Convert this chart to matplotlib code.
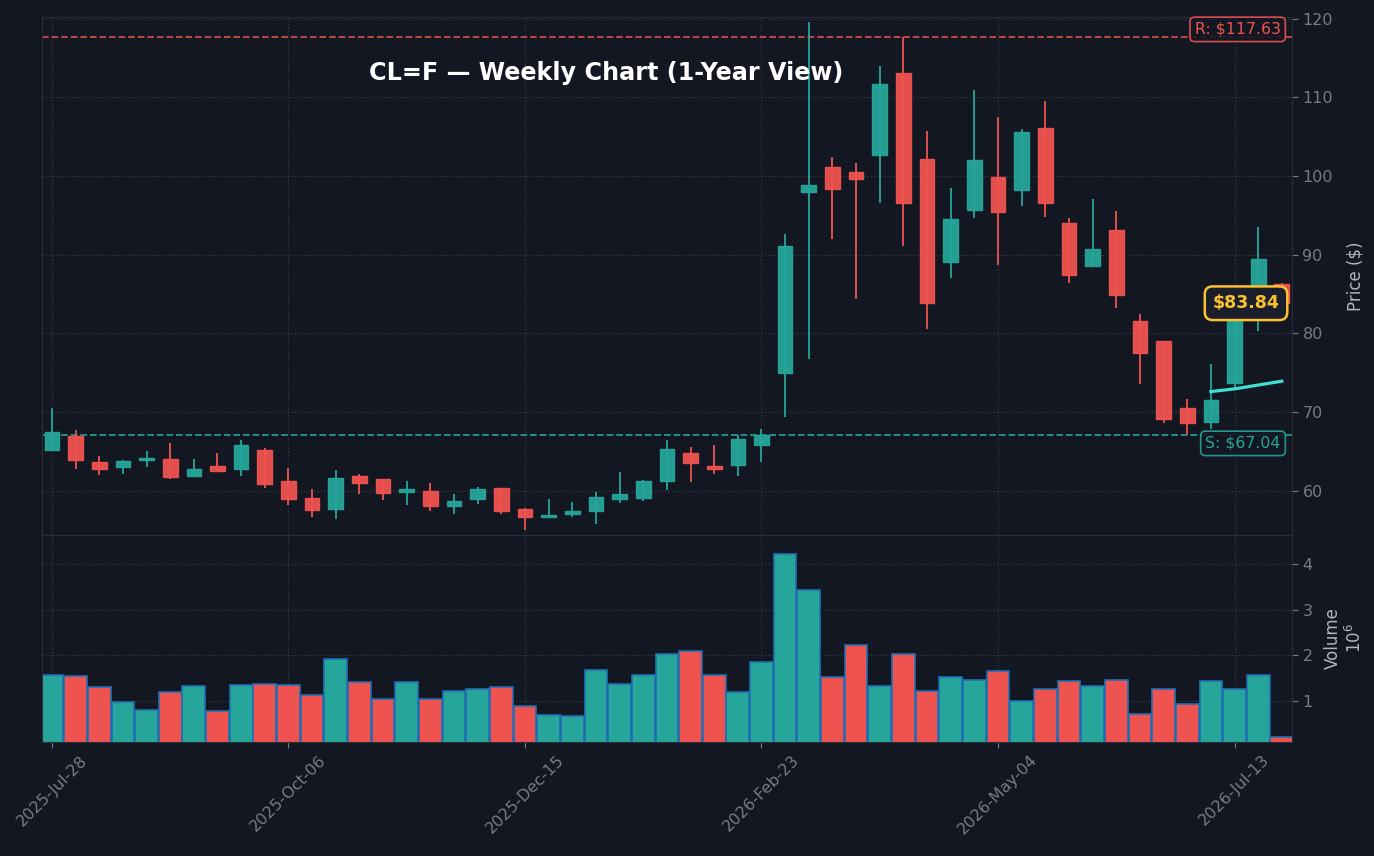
import matplotlib
matplotlib.use("Agg")
import matplotlib.pyplot as plt
import numpy as np
import pandas as pd

# weekly OHLC
dates = pd.date_range("2025-07-28", periods=53, freq="7D")
opens = [65.17, 66.95, 63.65, 63.00, 63.90, 64.03, 61.95, 63.14, 62.76, 65.17,
         61.23, 59.07, 57.67, 61.95, 61.49, 59.83, 59.96, 58.06, 58.95, 60.34,
         57.67, 56.70, 57.08, 57.42, 58.95, 59.07, 61.23, 64.79, 63.14, 63.27,
         65.88, 74.96, 97.95, 101.13, 100.57, 102.66, 113.07, 102.15, 89.06, 95.67,
         99.86, 98.20, 106.09, 94.02, 88.55, 93.13, 81.56, 79.02, 70.58, 68.73,
         73.72, 84.00, 86.27]
highs = [70.58, 67.75, 64.45, 63.90, 65.08, 66.10, 64.07, 64.83, 66.48, 65.46,
         62.92, 60.25, 62.67, 62.16, 61.55, 61.27, 61.00, 59.62, 60.50, 60.40,
         57.88, 58.98, 58.60, 59.87, 62.41, 61.40, 66.48, 65.59, 65.84, 67.15,
         67.88, 92.66, 119.60, 102.44, 101.68, 114.00, 117.63, 105.74, 98.50, 110.95,
         107.52, 106.00, 109.55, 94.65, 97.10, 95.58, 82.49, 79.05, 71.69, 76.14,
         85.00, 93.50, 86.40]
lows = [65.10, 62.80, 62.03, 62.16, 63.10, 61.56, 61.82, 62.50, 61.90, 60.42,
        58.22, 56.73, 56.48, 59.66, 58.90, 58.26, 57.50, 57.12, 58.39, 57.12,
        55.08, 56.65, 56.73, 55.85, 58.50, 58.77, 60.17, 61.14, 62.16, 61.95,
        63.73, 69.36, 76.81, 92.06, 84.44, 96.63, 91.17, 80.62, 87.10, 94.73,
        88.76, 96.25, 94.85, 86.47, 88.50, 83.29, 73.63, 68.68, 67.12, 67.92,
        73.05, 80.37, 83.50]
closes = [67.46, 63.90, 62.76, 63.77, 64.15, 61.82, 62.76, 62.58, 65.80, 60.85,
          58.95, 57.55, 61.61, 60.98, 59.71, 60.22, 58.06, 58.69, 60.22, 57.42,
          56.66, 56.90, 57.42, 59.20, 59.58, 61.23, 65.30, 63.52, 62.83, 66.57,
          67.15, 91.09, 98.84, 98.33, 99.60, 111.68, 96.56, 83.85, 94.52, 102.02,
          95.41, 105.58, 96.56, 87.40, 90.71, 84.87, 77.50, 69.19, 68.68, 71.52,
          84.00, 89.44, 83.84]
volume_m = [1.56, 1.54, 1.30, 0.97, 0.81, 1.19, 1.32, 0.79, 1.34, 1.38,
            1.36, 1.14, 1.91, 1.41, 1.05, 1.41, 1.05, 1.21, 1.27, 1.30,
            0.90, 0.70, 0.68, 1.69, 1.38, 1.56, 2.02, 2.09, 1.56, 1.19,
            1.85, 4.22, 3.43, 1.52, 2.22, 1.32, 2.04, 1.22, 1.52, 1.45,
            1.65, 0.99, 1.27, 1.43, 1.32, 1.45, 0.72, 1.27, 0.94, 1.43,
            1.27, 1.58, 0.22]
trend_vals = [72.62, 72.96, 73.45, 73.94]   # short cyan line over last 4 weeks

resistance = 117.63
support = 67.04
last_close = closes[-1]

BG = "#131722"
UP = "#26a69a"
DOWN = "#ef5350"
GRID = "#363a45"
TICK = "#787b86"
LABEL = "#b2b5be"

fig = plt.figure(figsize=(13.74, 8.56), dpi=100, facecolor=BG)
ax = fig.add_axes([42/1374, 1-535/856, 1250/1374, 518/856])
axv = fig.add_axes([42/1374, 1-742/856, 1250/1374, 207/856], sharex=ax)

x = np.arange(len(dates))
o = np.array(opens); h = np.array(highs); l = np.array(lows); c = np.array(closes)
up = c >= o
cols = np.where(up, UP, DOWN)

# wicks + bodies
ax.vlines(x, l, h, colors=cols, linewidth=1.3, zorder=2)
ax.bar(x, np.abs(c - o), bottom=np.minimum(o, c), width=0.62, color=cols,
       edgecolor=cols, linewidth=1.0, alpha=0.95, zorder=3)

# support / resistance
ax.axhline(resistance, color=DOWN, ls="--", lw=1.3, alpha=0.85, zorder=1)
ax.axhline(support, color=UP, ls="--", lw=1.3, alpha=0.9, zorder=1)
ax.text(51.95, resistance + 1.0, "R: $%.2f" % resistance, color=DOWN, fontsize=11.3,
        ha="right", va="center", zorder=5,
        bbox=dict(boxstyle="round,pad=0.3", fc=BG, ec=DOWN, lw=1.2, alpha=0.9))
ax.text(51.95, support - 1.0, "S: $%.2f" % support, color=UP, fontsize=11.3,
        ha="right", va="center", zorder=5,
        bbox=dict(boxstyle="round,pad=0.3", fc=BG, ec=UP, lw=1.2, alpha=0.9))

ax.plot(x[-4:], trend_vals, color="#40e0d0", lw=2.3, zorder=4)

ax.text(51.9, last_close, "$%.2f" % last_close, color="#f9c22e", fontsize=12.5,
        fontweight="bold", ha="right", va="center", zorder=6,
        bbox=dict(boxstyle="round,pad=0.45", fc="#1b1e2b", ec="#f9c22e", lw=1.8))

# volume
axv.bar(x, volume_m, width=0.96, color=cols, edgecolor="#1f6fb4", linewidth=1.2)

ticks = x[::10]
for a in (ax, axv):
    a.set_facecolor(BG)
    a.grid(True, color=GRID, ls=":", lw=0.9)
    a.set_axisbelow(True)
    a.yaxis.tick_right()
    a.yaxis.set_label_position("right")
    a.tick_params(colors=TICK, labelsize=11.5, length=4)
    for s in a.spines.values():
        s.set_color("#2a2e39")
    a.set_xticks(ticks)

ax.set_xlim(-0.42, 52.43)
ax.set_ylim(54.4, 120.2)
ax.set_yticks([60, 70, 80, 90, 100, 110, 120])
ax.tick_params(axis="x", labelbottom=False, length=0)
ax.set_ylabel("Price ($)", color=LABEL, fontsize=12, labelpad=10)

axv.set_ylim(0.1, 4.64)
axv.set_yticks([1, 2, 3, 4])
axv.set_ylabel("Volume\n$10^6$", color=LABEL, fontsize=12, labelpad=8)
axv.set_xticklabels([d.strftime("%Y-%b-%d") for d in dates[::10]],
                    rotation=45, ha="center")

fig.text(606/1374, 1-73/856, "CL=F \u2014 Weekly Chart (1-Year View)", color="white",
         fontsize=17.2, fontweight="bold", ha="center", va="center")

fig.savefig("out.png", dpi=100, facecolor=BG)
